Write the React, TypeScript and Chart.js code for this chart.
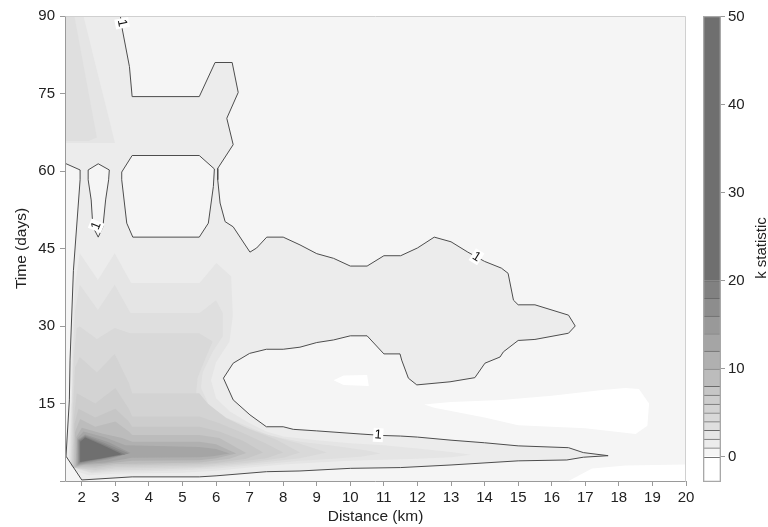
import React, { useEffect, useRef } from 'react';
import { Chart, registerables } from 'chart.js';

Chart.register(...registerables);

type Pt = [number, number];

const FONT = "'Liberation Sans', Arial, Helvetica, sans-serif";

// ---- axes ----
const xMin = 1.5;
const xMax = 20;
const yMin = 0;
const yMax = 90;
const xTickValues = [2, 3, 4, 5, 6, 7, 8, 9, 10, 11, 12, 13, 14, 15, 16, 17, 18, 19, 20];
const yTickValues = [0, 15, 30, 45, 60, 75, 90];
const xTitle = 'Distance (km)';
const yTitle = 'Time (days)';

// ---- colour key ----
const cbMin = -2.87;
const cbMax = 50.1;
const cbBreaks = [-2.87, 0, 1, 2, 3, 4, 5, 6, 7, 8, 10, 12, 14, 16, 18, 20, 50.1];
const cbColors = ['#ffffff', '#f5f5f5', '#ececec', '#e5e5e5', '#dfdfdf', '#d9d9d9', '#d3d3d3', '#cdcdcd', '#c6c6c6', '#bcbcbc', '#b0b0b0', '#a5a5a5', '#999999', '#8d8d8d', '#818181', '#6f6f6f'];
const cbTickValues = [0, 10, 20, 30, 40, 50];
const cbTitle = 'k statistic';

// ---- contour k = 1 ----
const contour1Outer: Pt[] = [
  [3.15, 90], [3.19, 88], [3.42, 80.2], [3.5, 74.4], [5.5, 74.4], [5.97, 81.0], [6.48, 81.0], [6.66, 75.2],
  [6.32, 70.2], [6.51, 65.1], [6.05, 60.5], [6.05, 58.3], [6.12, 53.8], [6.27, 50.2], [6.51, 49.2], [7.01, 44.3],
  [7.21, 45.1], [7.51, 47.2], [8.0, 47.2], [8.5, 45.7], [9.0, 44.0], [9.5, 43.1], [10.0, 41.6], [10.5, 41.6],
  [11.0, 43.6], [11.5, 43.6], [12.0, 45.1], [12.5, 47.2], [13.0, 46.3], [13.5, 44.3], [14.0, 42.5], [14.5, 41.2],
  [14.7, 40.2], [14.86, 35.0], [15.0, 34.1], [15.5, 34.1], [16.5, 32.1], [16.7, 30.0], [16.5, 28.6], [15.5, 27.4],
  [15.0, 27.2], [14.56, 25.0], [14.46, 24.0], [14.01, 22.8], [13.71, 20.0], [12.97, 19.2], [11.98, 18.6], [11.73, 19.9],
  [11.53, 23.4], [11.48, 24.6], [11.0, 24.6], [10.5, 28.1], [10.0, 28.1], [9.5, 27.3], [9.0, 26.8], [8.5, 25.9],
  [8.0, 25.5], [7.5, 25.5], [7.0, 24.7], [6.51, 22.8], [6.22, 19.9], [6.51, 15.7], [7.01, 12.8], [7.5, 10.5],
  [8.0, 10.5], [8.3, 10.0], [9.0, 9.7], [10.29, 9.1], [11.0, 8.8], [11.5, 8.7], [12.0, 8.5], [13.0, 7.9],
  [14.0, 7.4], [15.0, 6.8], [16.5, 6.45], [16.94, 5.5], [17.68, 4.9], [16.94, 4.6], [16.45, 4.07], [15.0, 3.9],
  [13.0, 3.1], [11.5, 2.6], [10.0, 2.45], [8.5, 1.94], [7.5, 1.8], [6.0, 1.0], [5.5, 0.8], [3.5, 0.8],
  [2.0, 0.2], [1.53, 4.8], [1.63, 15.7], [1.65, 23.4], [1.75, 40.7], [1.95, 58.3], [1.95, 60.2], [1.5, 61.5],
];
const contour1Corner: Pt[] = [[1.5, 90]];
const contour1HoleA: Pt[] = [
  [5.95, 60.4], [5.92, 57.0], [5.77, 49.9], [5.5, 47.2], [3.52, 47.2], [3.34, 49.9], [3.19, 58.3], [3.19, 59.8],
  [3.5, 63.0], [5.5, 63.0],
];
const contour1HoleB: Pt[] = [
  [2.19, 60.2], [2.49, 61.4], [2.82, 60.2], [2.8, 58.3], [2.71, 54.4], [2.63, 49.2], [2.49, 47.2], [2.33, 49.2],
  [2.28, 54.4], [2.19, 58.3],
];
const contour1LabelX = [3.2, 2.43, 13.76, 10.83];
const contour1LabelY = [88.6, 49.4, 43.4, 8.9];
const contour1LabelAngle = [79, -68, 32, 4];
const contour1LabelText = ['1', '1', '1', '1'];

// ---- regions below 0 ----
const below0A: Pt[] = [
  [12.2, 14.8], [13, 15.3], [14.5, 15.7], [16, 16.5], [17.5, 17.6], [18.2, 18.0], [18.6, 17.8], [18.9, 15.0],
  [18.85, 10.7], [18.5, 9.1], [17, 10.2], [15, 10.8], [14, 12.3], [12.5, 14.2],
];
const below0B: Pt[] = [[9.5, 19.5], [9.8, 20.4], [10.5, 20.5], [10.55, 18.4], [9.8, 18.6]];
const below0C: Pt[] = [[16.5, 0], [17.2, 2.4], [18.2, 3.0], [20, 3.2], [20, 0]];

// ---- higher levels ----
const level2Low: Pt[] = [
  [1.62, 4.5], [1.68, 15], [1.7, 25], [1.8, 38], [1.94, 44.1], [2.48, 38.9], [2.98, 44.1], [3.47, 38.3],
  [5.51, 38.3], [6.01, 42.2], [6.45, 39.6], [6.5, 32], [6.4, 27], [6.0, 23], [5.85, 19.5], [6.0, 16],
  [6.4, 13.5], [7.0, 11.2], [7.5, 9.6], [8.0, 8.6], [9, 7.9], [10, 7.3], [11, 6.9], [12, 6.3], [13, 5.6],
  [13.6, 5.1], [13, 4.6], [12, 4.3], [11, 4.1], [10, 3.9], [9, 3.6], [8, 3.2], [7, 2.6], [6, 2.0], [5, 1.6],
  [4, 1.5], [3, 1.4], [2.2, 1.1], [1.8, 2.0],
];
const level2Top: Pt[] = [[1.5, 65.4], [1.5, 90], [2.05, 90], [2.99, 65.4]];
const level3Low: Pt[] = [
  [1.65, 3.5], [1.7, 15], [1.74, 25], [1.8, 33], [1.94, 38], [2.48, 33.1], [2.98, 38], [3.45, 32.5],
  [5.51, 32.5], [6.0, 35], [6.2, 32.5], [6.2, 28], [5.9, 25], [5.6, 21], [5.55, 18], [5.8, 14.5], [6.3, 12.3],
  [7.0, 10.4], [7.6, 8.8], [8.5, 7.6], [9.5, 6.8], [10.5, 5.9], [10.9, 5.3], [10.3, 4.7], [9.5, 4.3],
  [8.5, 3.9], [7.5, 3.3], [6.5, 2.7], [6, 2.4], [5, 2.1], [4, 1.9], [3, 1.8], [2.3, 1.5], [1.85, 2.3],
];
const level3Top: Pt[] = [[1.5, 65.8], [1.5, 90], [1.78, 90], [2.45, 66.5], [2.2, 65.8]];
const level4: Pt[] = [
  [1.67, 3], [1.72, 15], [1.76, 24], [1.85, 29.6], [1.94, 29.9], [2.45, 27.5], [2.98, 29.6], [3.45, 28.6],
  [5.5, 28.6], [5.9, 27], [5.7, 24], [5.45, 20], [5.4, 16.5], [5.6, 14], [6.1, 12.3], [6.8, 10.5], [7.5, 9.0],
  [8.5, 7.2], [9.3, 5.5], [8.5, 4.4], [7.5, 3.7], [6.5, 3.0], [5.5, 2.5], [4, 2.2], [3, 2.1], [2.3, 1.7],
  [1.85, 2.4],
];
const level5: Pt[] = [
  [1.7, 2.8], [1.74, 14], [1.8, 22], [1.94, 24], [2.45, 21], [2.98, 24.6], [3.4, 19], [3.5, 17], [5.5, 17],
  [5.75, 15], [6.3, 12.2], [7.0, 10], [7.8, 8], [8.5, 5.5], [8.0, 4.5], [7, 3.6], [6, 3.0], [5.5, 2.7],
  [4, 2.5], [3, 2.4], [2.4, 2.0], [1.9, 2.4],
];
const level6: Pt[] = [
  [1.72, 2.6], [1.76, 12], [1.85, 17], [2.4, 15], [3.0, 18], [3.4, 14], [3.5, 12.5], [5.5, 12.5], [6.1, 11.2],
  [6.8, 9.3], [7.5, 7.2], [8.0, 5.5], [7.5, 4.4], [6.5, 3.6], [5.5, 3.0], [4, 2.8], [3, 2.7], [2.4, 2.2],
  [1.95, 2.4],
];
const level7: Pt[] = [
  [1.75, 2.5], [1.78, 11], [1.9, 14], [2.4, 12.3], [3.0, 14], [3.4, 11.5], [3.5, 10.5], [5.5, 10.5],
  [6.1, 9.6], [6.8, 7.8], [7.4, 5.5], [6.9, 4.3], [6.0, 3.5], [5.5, 3.3], [4, 3.1], [3, 3.0], [2.4, 2.5],
  [2.0, 2.6],
];
const level8: Pt[] = [
  [1.78, 2.6], [1.8, 9.5], [1.95, 12], [2.4, 10.5], [3.0, 11.5], [3.4, 9.6], [3.5, 8.9], [5.5, 8.9],
  [6.1, 8.3], [6.9, 5.4], [6.4, 4.3], [5.5, 3.6], [4, 3.4], [3, 3.3], [2.4, 2.8], [2.0, 2.8],
];
const level10: Pt[] = [
  [1.82, 2.8], [1.84, 8.5], [2.0, 10.3], [2.6, 9.2], [3.2, 8.3], [3.5, 7.6], [5.5, 7.6], [6.0, 7.1],
  [6.6, 5.3], [6.0, 4.4], [5.5, 4.0], [3.5, 3.9], [2.6, 3.3], [2.05, 3.1],
];
const level12: Pt[] = [
  [1.85, 3.0], [1.86, 8.2], [2.05, 9.6], [2.7, 8.4], [3.3, 6.9], [5.5, 6.6], [6.0, 6.2], [6.4, 5.3],
  [5.9, 4.8], [5.5, 4.6], [3.5, 4.5], [2.7, 3.6], [2.1, 3.3],
];
const level14: Pt[] = [[1.88, 3.2], [1.88, 8], [2.1, 9], [2.8, 7.5], [3.45, 5.4], [2.8, 4.2], [2.15, 3.5]];
const level16: Pt[] = [[1.9, 3.4], [1.9, 7.9], [2.1, 8.8], [2.7, 7.3], [3.4, 5.3], [2.7, 4.3], [2.15, 3.7]];
const level18: Pt[] = [[1.92, 3.6], [1.92, 7.8], [2.1, 8.6], [2.65, 7.1], [3.3, 5.2], [2.65, 4.4], [2.15, 3.8]];
const level20: Pt[] = [[1.95, 3.7], [1.95, 7.6], [2.1, 8.4], [2.6, 7.0], [3.2, 5.2], [2.6, 4.4], [2.15, 3.9]];

const levelRegions: { level: number; pts: Pt[] }[] = [
  { level: 2, pts: level2Low }, { level: 2, pts: level2Top },
  { level: 3, pts: level3Low }, { level: 3, pts: level3Top },
  { level: 4, pts: level4 }, { level: 5, pts: level5 }, { level: 6, pts: level6 }, { level: 7, pts: level7 },
  { level: 8, pts: level8 }, { level: 10, pts: level10 }, { level: 12, pts: level12 }, { level: 14, pts: level14 },
  { level: 16, pts: level16 }, { level: 18, pts: level18 }, { level: 20, pts: level20 },
];

const bandColor = (level: number) => cbColors[cbBreaks.indexOf(level)];
const toXY = (pts: Pt[]) => pts.map(([x, y]) => ({ x, y }));
const ring = (pts: Pt[]) => toXY([...pts, pts[0]]);

function buildDatasets() {
  const ds: any[] = [];
  const poly = (pts: Pt[], color: string) =>
    ds.push({ data: ring(pts), backgroundColor: color, borderWidth: 0, fill: 'shape', pointRadius: 0, tension: 0 });
  const line = (pts: Pt[], closed: boolean) =>
    ds.push({ data: closed ? ring(pts) : toXY(pts), borderColor: '#4d4d4d', borderWidth: 1, fill: false, pointRadius: 0, tension: 0 });

  [below0A, below0B, below0C].forEach((p) => poly(p, cbColors[0]));
  poly([...contour1Outer, ...contour1Corner], bandColor(1));
  poly(contour1HoleA, cbColors[1]);
  poly(contour1HoleB, cbColors[1]);
  levelRegions.forEach((r) => poly(r.pts, bandColor(r.level)));
  line(contour1Outer, false);
  line(contour1HoleA, true);
  line(contour1HoleB, true);
  ds.forEach((d, i) => (d.order = ds.length - i));
  return ds;
}

const plotPlugin = {
  id: 'plotDecor',
  beforeDatasetsDraw(chart: any) {
    const { ctx, chartArea: a } = chart;
    ctx.save();
    ctx.fillStyle = cbColors[1];
    ctx.fillRect(a.left, a.top, a.right - a.left, a.bottom - a.top);
    ctx.restore();
  },
  afterDatasetsDraw(chart: any) {
    const { ctx, chartArea: a, scales } = chart;
    const xs = scales.x;
    const ys = scales.y;
    ctx.save();
    ctx.font = `13px ${FONT}`;
    ctx.textAlign = 'center';
    ctx.textBaseline = 'middle';
    contour1LabelText.forEach((t, i) => {
      const px = xs.getPixelForValue(contour1LabelX[i]);
      const py = ys.getPixelForValue(contour1LabelY[i]);
      ctx.save();
      ctx.translate(px, py);
      ctx.rotate((contour1LabelAngle[i] * Math.PI) / 180);
      ctx.fillStyle = '#ffffff';
      ctx.fillRect(-5, -7, 10, 14);
      ctx.fillStyle = '#111111';
      ctx.fillText(t, 0, 0);
      ctx.restore();
    });
    const L = Math.round(a.left) + 0.5;
    const R = Math.round(a.right) - 0.5;
    const T = Math.round(a.top) + 0.5;
    const B = Math.round(a.bottom) + 0.5;
    ctx.lineWidth = 1;
    ctx.strokeStyle = '#d0d0d0';
    ctx.beginPath();
    ctx.moveTo(L, T);
    ctx.lineTo(R, T);
    ctx.lineTo(R, B);
    ctx.stroke();
    ctx.strokeStyle = '#9a9a9a';
    ctx.beginPath();
    ctx.moveTo(L, T);
    ctx.lineTo(L, B);
    ctx.lineTo(R, B);
    ctx.stroke();
    ctx.restore();
  },
};

export default function App() {
  const mainRef = useRef<HTMLCanvasElement>(null);
  const keyRef = useRef<HTMLCanvasElement>(null);

  useEffect(() => {
    const tickFont = { family: FONT, size: 15 };
    const titleFont = { family: FONT, size: 15.5 };
    const main = new Chart(mainRef.current as HTMLCanvasElement, {
      type: 'line',
      data: { datasets: buildDatasets() },
      plugins: [plotPlugin],
      options: {
        animation: false,
        responsive: false,
        maintainAspectRatio: false,
        layout: { padding: { left: 0, right: 82, top: 16, bottom: 0 } },
        plugins: { legend: { display: false }, tooltip: { enabled: false } },
        elements: { point: { radius: 0 } },
        scales: {
          x: {
            type: 'linear',
            min: xMin,
            max: xMax,
            afterBuildTicks: (s: any) => { s.ticks = xTickValues.map((v) => ({ value: v })); },
            afterFit: (s: any) => { s.height = 46; },
            border: { display: false },
            grid: { drawOnChartArea: false, tickLength: 5, tickColor: '#9a9a9a' },
            ticks: { font: tickFont, color: '#222', padding: 3, maxRotation: 0, autoSkip: false },
            title: { display: true, text: xTitle, font: titleFont, color: '#222', padding: { top: 0, bottom: 1 } },
          },
          y: {
            type: 'linear',
            min: yMin,
            max: yMax,
            afterBuildTicks: (s: any) => { s.ticks = yTickValues.map((v) => ({ value: v })); },
            afterFit: (s: any) => { s.width = 65; },
            border: { display: false },
            grid: { drawOnChartArea: false, tickLength: 5, tickColor: '#9a9a9a' },
            ticks: { font: tickFont, color: '#222', padding: 5, callback: (v: any) => (v === 0 ? '' : String(v)) },
            title: { display: true, text: yTitle, font: titleFont, color: '#222', padding: { top: 12, bottom: 0 } },
          },
        },
      } as any,
    });

    const bands = cbColors.map((c, i) => ({
      data: [[cbBreaks[i], cbBreaks[i + 1]]],
      backgroundColor: c,
      borderColor: '#6a6a6a',
      borderWidth: { top: 1, bottom: 0, left: 0, right: 0 },
      borderSkipped: false,
      grouped: false,
      barPercentage: 1,
      categoryPercentage: 1,
      order: 1,
    }));
    const outline = {
      data: [[cbMin, cbMax]],
      backgroundColor: 'rgba(0,0,0,0)',
      borderColor: '#a8a8a8',
      borderWidth: 1,
      borderSkipped: false,
      grouped: false,
      barPercentage: 1,
      categoryPercentage: 1,
      order: 0,
    };
    const key = new Chart(keyRef.current as HTMLCanvasElement, {
      type: 'bar',
      data: { labels: [''], datasets: [...bands, outline] as any },
      options: {
        animation: false,
        responsive: false,
        maintainAspectRatio: false,
        layout: { padding: { left: 3, right: 0, top: 16, bottom: 45 } },
        plugins: { legend: { display: false }, tooltip: { enabled: false } },
        scales: {
          x: { display: false },
          y: {
            position: 'right',
            min: cbMin,
            max: cbMax,
            afterBuildTicks: (s: any) => { s.ticks = cbTickValues.map((v) => ({ value: v })); },
            afterFit: (s: any) => { s.width = 47; },
            border: { display: false },
            grid: { drawOnChartArea: false, tickLength: 4, tickColor: '#9a9a9a' },
            ticks: { font: tickFont, color: '#222', padding: 3 },
          },
        },
      } as any,
    });

    return () => {
      main.destroy();
      key.destroy();
    };
  }, []);

  return (
    <div style={{ position: 'absolute', left: 0, top: 0, width: 768, height: 527, background: '#ffffff', overflow: 'hidden' }}>
      <canvas ref={mainRef} width={768} height={527} style={{ position: 'absolute', left: 0, top: 0 }} />
      <canvas ref={keyRef} width={68} height={527} style={{ position: 'absolute', left: 700, top: 0 }} />
      <div
        style={{
          position: 'absolute', left: 701, top: 239, width: 120, height: 18, lineHeight: '18px',
          textAlign: 'center', transform: 'rotate(-90deg)', font: `15px ${FONT}`, color: '#222', whiteSpace: 'nowrap',
        }}
      >
        {cbTitle}
      </div>
    </div>
  );
}
